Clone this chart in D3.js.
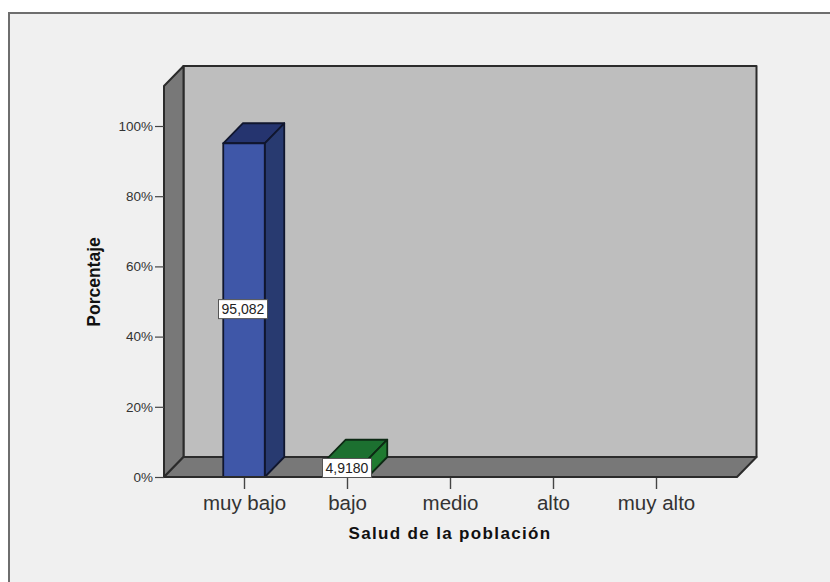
<!DOCTYPE html>
<html><head><meta charset="utf-8">
<script src="https://cdn.jsdelivr.net/npm/d3@7/dist/d3.min.js"></script>
<style>html,body{margin:0;padding:0;background:#fff}svg{display:block}text{font-family:"Liberation Sans",Arial,sans-serif}</style>
</head><body><svg id="c" width="830" height="582"></svg>
<script>
const categories=["muy bajo","bajo","medio","alto","muy alto"];
const values=[95.082,4.918,null,null,null];
const valueLabels=["95,082","4,9180",null,null,null];
const yTicks=[0,20,40,60,80,100];
const xTitle="Salud de la población";
const yTitle="Porcentaje";
const barFront=["#3f57a8","#1f7a30"];
const barTop=["#25346f","#1c7030"];
const barSide=["#283a70","#1f7a30"];

const svg=d3.select("#c");
const ink="#2b2b2b";
const W=830,H=582;
const x=d3.scalePoint().domain(categories).range([244,656]);
const y=d3.scaleLinear().domain([0,100]).range([477,126]);
const dx=19.5,dy=-20,bw=41.5;
const x0=164,x1=737,yB=y(0),yT=86;
const poly=(pts,fill,stroke,sw)=>svg.append("polygon").attr("points",pts.map(p=>p.join(",")).join(" ")).attr("fill",fill).attr("stroke",stroke).attr("stroke-width",sw).attr("stroke-linejoin","round");

svg.append("rect").attr("x",9).attr("y",13).attr("width",W+10).attr("height",H+10).attr("fill","#f0f0f0").attr("stroke","#6e6e6e").attr("stroke-width",2);

poly([[x0+dx,yT+dy],[x1+dx,yT+dy],[x1+dx,yB+dy],[x0+dx,yB+dy]],"#bebebe",ink,2);
poly([[x0,yT],[x0+dx,yT+dy],[x0+dx,yB+dy],[x0,yB]],"#787878",ink,2);
poly([[x0,yB],[x0+dx,yB+dy],[x1+dx,yB+dy],[x1,yB]],"#787878",ink,2);

// axes
const gy=svg.append("g").attr("transform",`translate(${x0},0)`).call(d3.axisLeft(y).tickValues(yTicks).tickSize(9).tickPadding(2).tickFormat(d=>d+"%"));
gy.select(".domain").remove();
gy.selectAll("line").attr("stroke","#444").attr("stroke-width",1.2);
gy.selectAll("text").attr("font-size",13.5).attr("fill","#333");
const gx=svg.append("g").attr("transform",`translate(0,${yB})`).call(d3.axisBottom(x).tickSize(12).tickPadding(6));
gx.select(".domain").remove();
gx.selectAll("line").attr("stroke","#444").attr("stroke-width",1.4);
gx.selectAll("text").attr("font-size",20.5).attr("fill","#333");

// bars
categories.forEach((c,i)=>{
  if(values[i]==null) return;
  const L=x(c)-bw/2,R=L+bw,T=y(values[i]);
  const edge=i?"#0d2a14":"#10162e";
  poly([[L,T],[L+dx,T+dy],[R+dx,T+dy],[R,T]],barTop[i],edge,1.8);
  poly([[R,T],[R+dx,T+dy],[R+dx,yB+dy],[R,yB]],barSide[i],edge,1.8);
  poly([[L,T],[R,T],[R,yB],[L,yB]],barFront[i],edge,1.8);
});
// x baseline
svg.append("line").attr("x1",x0).attr("x2",x1).attr("y1",yB).attr("y2",yB).attr("stroke",ink).attr("stroke-width",2);

// value labels
const labelY=[y(values[0]/2)-1,468];
categories.forEach((c,i)=>{
  if(valueLabels[i]==null) return;
  const cx=x(c)-(i?0:1), cy=labelY[i];
  svg.append("rect").attr("x",cx-24.5).attr("y",cy-9.5).attr("width",49).attr("height",19).attr("fill","#fff").attr("stroke","#555").attr("stroke-width",1);
  svg.append("text").attr("x",cx).attr("y",cy+5).attr("text-anchor","middle").attr("font-size",14).attr("fill","#222").text(valueLabels[i]);
});

// titles
svg.append("text").attr("x",450).attr("y",539).attr("text-anchor","middle").attr("font-size",17).attr("font-weight","bold").attr("letter-spacing",1.35).attr("fill","#111").text(xTitle);
svg.append("text").attr("transform","translate(100,282) rotate(-90)").attr("text-anchor","middle").attr("font-size",17.5).attr("font-weight","bold").attr("fill","#111").text(yTitle);
</script></body></html>
